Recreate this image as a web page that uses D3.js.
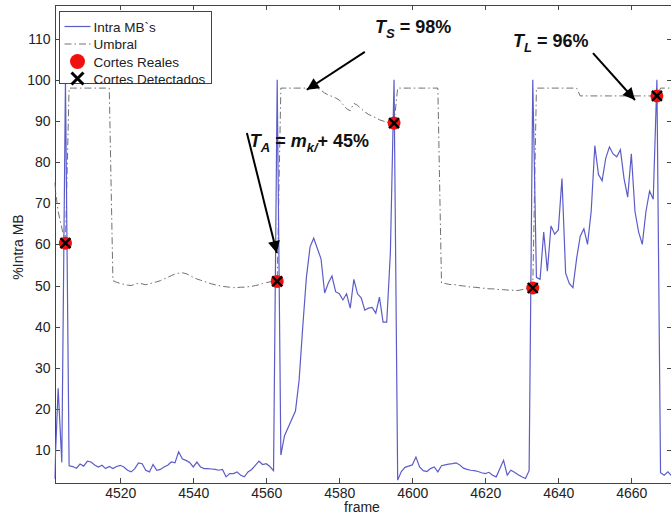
<!DOCTYPE html>
<html>
<head>
<meta charset="utf-8">
<script src="https://cdn.jsdelivr.net/npm/d3@7"></script>
<style>
    body { margin: 0; background: #fff; }
    #chart text { font-family: "Liberation Sans", Arial, sans-serif; }
    .axis path, .axis line { stroke: #444; shape-rendering: crispEdges; }
    .axis text { fill: #222; font-size: 14px; }
</style>
</head>
<body>
<div id="chart"></div>
<script>
// first frame of the sequence, one value per frame after it
var firstFrame = 4502;

// %Intra MB per frame (4502 .. 4671)
var intraMB = [
    3, 25, 7, 100, 6.2, 6.0, 5.6, 6.6, 6.1, 7.3,
    7.1, 6.4, 5.9, 6.3, 5.5, 6.0, 5.5, 6.0, 6.3, 5.9,
    5.1, 4.7, 5.5, 6.9, 6.7, 5.1, 4.7, 6.5, 5.1, 5.3,
    5.9, 6.3, 7.1, 6.9, 9.6, 7.9, 7.5, 7.0, 5.9, 7.1,
    5.9, 5.5, 5.5, 5.4, 5.3, 5.1, 5.3, 3.5, 4.3, 4.3,
    4.7, 3.9, 3.5, 4.7, 5.3, 6.3, 7.3, 6.5, 6.7, 6.0,
    5.0, 100, 8.8, 13.5, 15.5, 17.5, 19.5, 27, 40, 52,
    59.4, 61.5, 59, 56.5, 48.2, 50.6, 52.3, 48.5, 48, 46.5,
    48, 44.5, 51.5, 48, 47, 44, 44.5, 44.7, 43.3, 47.2,
    41.1, 41.1, 58, 100, 2.7, 4.8, 5.8, 6.1, 6.4, 8.3,
    5.9, 5.0, 4.8, 5.5, 5.9, 4.7, 6.2, 6.4, 6.6, 6.7,
    6.9, 6.4, 5.6, 5.3, 5.1, 5.0, 4.8, 4.5, 4.3, 4.6,
    3.9, 3.5, 5.5, 7.5, 3.9, 5.1, 4.6, 4.0, 3.5, 3.1,
    5.0, 100, 52, 51.5, 63, 53.5, 64.5, 62.5, 63.5, 76,
    53, 50.5, 49.5, 56.5, 62, 63.8, 60, 68, 84, 77,
    75.5, 81, 83.7, 82, 81.3, 83, 76, 71.5, 82, 68,
    63, 60, 68, 73, 71, 100, 4.5, 3.9, 4.7, 3.8
];

// Umbral (threshold) per frame (4502 .. 4671)
var umbral = [
    75, 68, 64, 60.3,
    98, 98, 98, 98, 98, 98, 98, 98, 98, 98, 98, 98,
    51.2, 50.8, 50.5, 50.3, 50.1, 50.0, 50.3, 50.6, 50.4, 50.2,
    50.4, 50.7, 50.9, 51.2, 51.6, 52.0, 52.4, 52.8, 53.0, 53.1,
    52.9, 52.5, 52.0, 51.6, 51.3, 51.0, 50.7, 50.4, 50.2, 50.0,
    49.8, 49.7, 49.6, 49.5, 49.5, 49.6, 49.6, 49.7, 49.8, 50.0,
    50.2, 50.5, 50.7, 50.9, 51.0, 51.0,
    98, 98, 98, 98, 98, 98, 98, 98, 98, 98, 98,
    97.5, 96.8, 96.3, 96.0, 95.6, 95.1, 94.0, 93.0, 92.5, 94.3,
    93.8, 93.0, 92.2, 91.6, 91.2, 90.8, 90.3, 90.0, 89.7, 89.5, 89.5,
    98, 98, 98, 98, 98, 98, 98, 98, 98, 98, 98, 98,
    50.6, 50.5, 50.3, 50.2, 50.2, 50.0, 49.9, 49.8, 49.6, 49.6,
    49.5, 49.4, 49.3, 49.2, 49.2, 49.1, 49.0, 49.0, 48.9, 48.9,
    48.8, 48.8, 49.0, 49.2, 49.3, 49.4,
    98, 98, 98, 98, 98, 98, 98, 98, 98, 98, 98, 98,
    96.1, 96.1, 96.1, 96.1, 96.1, 96.1, 96.1, 96.1, 96.1, 96.1, 96.1,
    96.1, 96.1, 96.1, 96.1, 96.1, 96.1, 96.1, 96.1, 96.1, 96.1, 96.1,
    98, 98, 98, 98
];

// scene cuts (real and detected are the same frames here)
var cutFrames = [4505, 4563, 4595, 4633, 4667];
var cutValues = [60.3, 51.0, 89.5, 49.4, 96.1];

var xTicks = [4520, 4540, 4560, 4580, 4600, 4620, 4640, 4660];
var yTicks = [10, 20, 30, 40, 50, 60, 70, 80, 90, 100, 110];

var legendLabels = ["Intra MB`s", "Umbral", "Cortes Reales", "Cortes Detectados"];

;(function (d3) {

    var W = 671, H = 517;

    // axis limits, the plot runs off the right side of the picture
    var x = d3.scaleLinear().domain([4502, 4671]).range([54.5, 671.5]);
    var y = d3.scaleLinear().domain([2, 118.2]).range([483, 5]);

    var left = x.range()[0], right = x.range()[1],
        top = y.range()[1], bottom = y.range()[0];

    var lineBlue = "#5c5cc8",
        lineGrey = "#707070";

    var svg = d3.select("#chart").append("svg")
        .attr("width", W)
        .attr("height", H);

    var defs = svg.append("defs");
    defs.append("clipPath").attr("id", "plotClip")
        .append("rect")
        .attr("x", left).attr("y", top)
        .attr("width", right - left).attr("height", bottom - top);

    defs.append("marker")
        .attr("id", "arrowHead")
        .attr("viewBox", "0 0 10 10")
        .attr("refX", 10).attr("refY", 5)
        .attr("markerUnits", "userSpaceOnUse")
        .attr("markerWidth", 17).attr("markerHeight", 12)
        .attr("orient", "auto")
        .append("path")
        .attr("d", "M0,0L10,5L0,10z")
        .attr("fill", "#000");

    // rows of data
    var rows = intraMB.map(function (v, i) {
        return {frame: firstFrame + i, intra: v, umbral: umbral[i]};
    });

    // axes, ticks point inwards on all four sides
    svg.append("g").attr("class", "axis")
        .attr("transform", "translate(0," + bottom + ")")
        .call(d3.axisBottom(x).tickValues(xTicks).tickSize(-5).tickSizeOuter(0)
            .tickPadding(5).tickFormat(d3.format("d")));
    svg.append("g").attr("class", "axis")
        .attr("transform", "translate(0," + top + ")")
        .call(d3.axisTop(x).tickValues(xTicks).tickSize(-5).tickSizeOuter(0).tickFormat(""));
    svg.append("g").attr("class", "axis")
        .attr("transform", "translate(" + left + ",0)")
        .call(d3.axisLeft(y).tickValues(yTicks).tickSize(-5).tickSizeOuter(0).tickPadding(4));
    svg.append("g").attr("class", "axis")
        .attr("transform", "translate(" + right + ",0)")
        .call(d3.axisRight(y).tickValues(yTicks).tickSize(-5).tickSizeOuter(0).tickFormat(""));

    // axis titles
    svg.append("text")
        .attr("x", 362).attr("y", 512)
        .attr("text-anchor", "middle")
        .style("font-size", "14px").attr("fill", "#222")
        .text("frame");

    svg.append("text")
        .attr("transform", "translate(23,247) rotate(-90)")
        .attr("text-anchor", "middle")
        .style("font-size", "14px").attr("fill", "#222")
        .text("%Intra MB");

    var plot = svg.append("g").attr("clip-path", "url(#plotClip)");

    // threshold line
    plot.append("path")
        .datum(rows)
        .attr("fill", "none")
        .attr("stroke", lineGrey)
        .attr("stroke-width", 1)
        .attr("stroke-dasharray", "7,3,1.5,3")
        .attr("d", d3.line()
            .x(function (d) { return x(d.frame); })
            .y(function (d) { return y(d.umbral); }));

    // intra MB line
    plot.append("path")
        .datum(rows)
        .attr("fill", "none")
        .attr("stroke", lineBlue)
        .attr("stroke-width", 1.2)
        .attr("d", d3.line()
            .x(function (d) { return x(d.frame); })
            .y(function (d) { return y(d.intra); }));

    // cuts: red dot with a black cross on top
    var cuts = cutFrames.map(function (f, i) { return {frame: f, value: cutValues[i]}; });

    plot.selectAll(".cutReal")
        .data(cuts)
        .enter().append("circle")
        .attr("class", "cutReal")
        .attr("cx", function (d) { return x(d.frame); })
        .attr("cy", function (d) { return y(d.value); })
        .attr("r", 6.5)
        .attr("fill", "#f01010");

    plot.selectAll(".cutDet")
        .data(cuts)
        .enter().append("path")
        .attr("class", "cutDet")
        .attr("d", function (d) {
            var cx = x(d.frame), cy = y(d.value), s = 5;
            return "M" + (cx - s) + "," + (cy - s) + "L" + (cx + s) + "," + (cy + s) +
                "M" + (cx - s) + "," + (cy + s) + "L" + (cx + s) + "," + (cy - s);
        })
        .attr("stroke", "#000")
        .attr("stroke-width", 2.4);

    // legend
    var lg = svg.append("g").attr("transform", "translate(59.5,11.5)");
    lg.append("rect")
        .attr("width", 152).attr("height", 72)
        .attr("fill", "#fff")
        .attr("stroke", "#444");

    var rowY = [15, 32.5, 50, 67];
    lg.append("line")
        .attr("x1", 5).attr("x2", 31).attr("y1", rowY[0]).attr("y2", rowY[0])
        .attr("stroke", lineBlue).attr("stroke-width", 1.2);
    lg.append("line")
        .attr("x1", 5).attr("x2", 31).attr("y1", rowY[1]).attr("y2", rowY[1])
        .attr("stroke", lineGrey).attr("stroke-dasharray", "7,3,1.5,3");
    lg.append("circle")
        .attr("cx", 18).attr("cy", rowY[2]).attr("r", 7.5)
        .attr("fill", "#f01010");
    lg.append("path")
        .attr("d", "M12," + (rowY[3] - 6) + "L24," + (rowY[3] + 6) +
            "M12," + (rowY[3] + 6) + "L24," + (rowY[3] - 6))
        .attr("stroke", "#000").attr("stroke-width", 3);

    lg.selectAll(".lgText")
        .data(legendLabels)
        .enter().append("text")
        .attr("class", "lgText")
        .attr("x", 34)
        .attr("y", function (d, i) { return rowY[i] + 5; })
        .style("font-size", "13.5px")
        .attr("fill", "#222")
        .text(function (d) { return d; });

    // annotations (positions in data units)
    var notes = [
        {parts: [["T", "i"], ["S", "s"], [" = 98%", ""]], at: [4589.8, 111.4],
            from: [4587.0, 106.8], to: [4571.1, 97.6]},
        {parts: [["T", "i"], ["A", "s"], [" = ", ""], ["m", "i"], ["k/", "s"], ["+ 45%", ""]], at: [4555.5, 83.7],
            from: [4554.7, 87.1], to: [4562.9, 57.9]},
        {parts: [["T", "i"], ["L", "s"], [" = 96%", ""]], at: [4627.6, 108.0],
            from: [4649.5, 106.5], to: [4661.0, 95.1]}
    ];

    notes.forEach(function (n) {
        svg.append("line")
            .attr("x1", x(n.from[0])).attr("y1", y(n.from[1]))
            .attr("x2", x(n.to[0])).attr("y2", y(n.to[1]))
            .attr("stroke", "#000")
            .attr("stroke-width", 2)
            .attr("marker-end", "url(#arrowHead)");

        var t = svg.append("text")
            .attr("x", x(n.at[0])).attr("y", y(n.at[1]))
            .style("font-size", "18px")
            .style("font-weight", "bold")
            .attr("fill", "#111");
        var down = false;
        n.parts.forEach(function (p) {
            var ts = t.append("tspan").text(p[0]);
            if (p[1] === "i" || p[1] === "s") ts.style("font-style", "italic");
            if (p[1] === "s") {
                ts.style("font-size", "13px").attr("dy", 5);
                down = true;
            } else if (down) {
                ts.attr("dy", -5);
                down = false;
            }
        });
    });

})(d3);
</script>
</body>
</html>
